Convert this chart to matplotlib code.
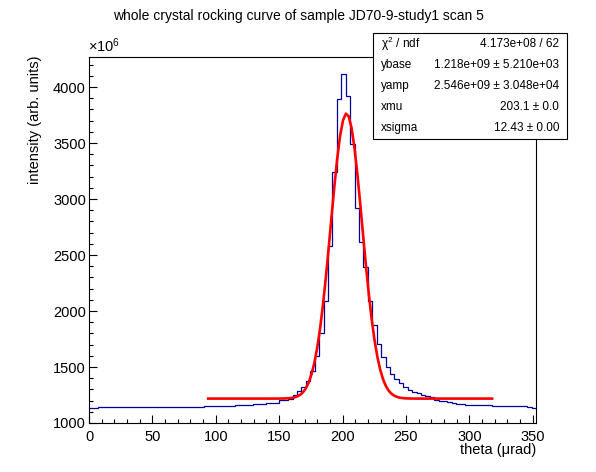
import numpy as np
import matplotlib
matplotlib.use("Agg")
import matplotlib.pyplot as plt
from matplotlib.patches import Rectangle

plt.rcParams['font.family'] = ['Liberation Sans', 'DejaVu Sans']
plt.rcParams['mathtext.fontset'] = 'custom'
plt.rcParams['mathtext.rm'] = 'Liberation Sans'
plt.rcParams['mathtext.it'] = 'Liberation Sans:italic'

# histogram contents (units of 1e6), 101 bins from 0 to x_max
x_max = 352.6
counts = (
    [1131] * 2 + [1140] * 24 + [1149] * 7 + [1161] * 4 + [1172] * 3 + [1181] * 3
    + [1205, 1205, 1217, 1247, 1283, 1321, 1378, 1464, 1595, 1801, 2089,
       2580, 3238, 3896, 4113, 3917, 3488, 2922, 2613, 2390, 2092, 1875,
       1705, 1587, 1497, 1437, 1390, 1354, 1321, 1295, 1280, 1268, 1253,
       1244, 1229, 1205, 1196, 1196, 1187, 1176, 1167, 1167]
    + [1158] * 6 + [1149] * 8 + [1140, 1131]
)

# fit result shown in the stats box
ybase = 1218.0
yamp = 2546.0
xmu = 203.1
xsigma = 12.43
fit_range = (94.0, 318.0)

stat_labels = ["χ$^{2}$ / ndf", "ybase", "yamp", "xmu", "xsigma"]
stat_values = ["4.173e+08 / 62", "1.218e+09 ± 5.210e+03", "2.546e+09 ± 3.048e+04",
               "203.1 ± 0.0", "12.43 ± 0.00"]

W, H = 596, 472
fig = plt.figure(figsize=(W / 100, H / 100), dpi=100)
ax = fig.add_axes([89 / W, 1 - 423 / H, (536 - 89) / W, (423 - 57) / H])

edges = np.linspace(0, x_max, len(counts) + 1)
ax.stairs(counts, edges, baseline=None, color='#000099', linewidth=0.9)

xf = np.linspace(fit_range[0], fit_range[1], 100)
yf = ybase + yamp * np.exp(-0.5 * ((xf - xmu) / xsigma) ** 2)
ax.plot(xf, yf, color='#ff0000', linewidth=1.9)

ax.set_xlim(0, x_max)
ax.set_ylim(1000, 4268)
ax.set_xticks(np.arange(0, 351, 50))
ax.set_xticks(np.arange(0, 351, 10), minor=True)
ax.set_yticks(np.arange(1000, 4001, 500))
ax.set_yticks(np.arange(1000, 4201, 100), minor=True)
ax.tick_params(which='both', direction='in', top=False, right=False,
               width=0.8, labelsize=10.5)
ax.tick_params(which='major', length=5.8)
ax.tick_params(which='minor', length=2.9)
ax.tick_params(axis='x', pad=5.0)
ax.tick_params(axis='y', pad=2.2)
for s in ax.spines.values():
    s.set_linewidth(0.8)

fig.text(0.5, 1 - 16 / H, "whole crystal rocking curve of sample JD70-9-study1 scan 5",
         ha='center', va='center', fontsize=10)
fig.text(88 / W, 1 - 55 / H, "×10$^{6}$", ha='left', va='bottom', fontsize=10.5)
fig.text(35 / W, 1 - 55 / H, "intensity (arb. units)", rotation=90,
         ha='center', va='top', fontsize=10.5)
fig.text(536 / W, 1 - 450 / H, "theta (μrad)", ha='right', va='center', fontsize=10.5)

# stats box
bx0, bx1, by0, by1 = 373, 567, 33, 139
fig.add_artist(Rectangle((bx0 / W, 1 - by1 / H), (bx1 - bx0) / W, (by1 - by0) / H,
                         transform=fig.transFigure, facecolor='white',
                         edgecolor='black', linewidth=0.8, zorder=5))
row_h = (by1 - by0) / len(stat_labels)
for i, (lab, val) in enumerate(zip(stat_labels, stat_values)):
    yc = 1 - (by0 + (i + 0.5) * row_h) / H
    fig.text(381 / W, yc, lab, ha='left', va='center', fontsize=8.5, zorder=6)
    fig.text(559 / W, yc, val, ha='right', va='center', fontsize=8.5, zorder=6)

fig.savefig("out.png", dpi=100)
